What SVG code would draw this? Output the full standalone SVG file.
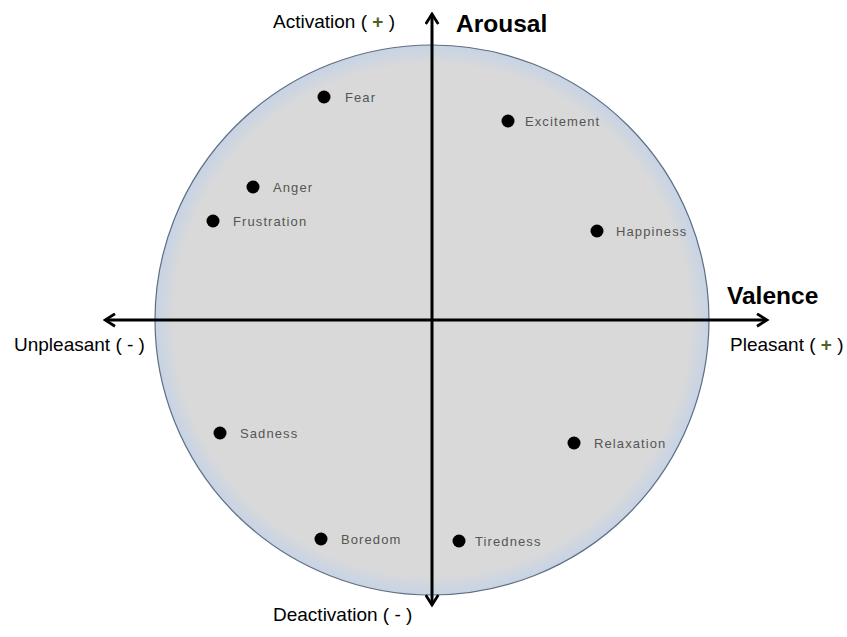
<svg xmlns="http://www.w3.org/2000/svg" width="847" height="637" viewBox="0 0 847 637">
<defs>
<radialGradient id="g" cx="0.5" cy="0.5" r="0.5">
<stop offset="0" stop-color="#d9d9d9"/>
<stop offset="0.93" stop-color="#d9d9d9"/>
<stop offset="1" stop-color="#c6d3e6"/>
</radialGradient>
<marker id="ah" viewBox="0 0 12 12" refX="10" refY="6" markerWidth="5" markerHeight="5" orient="auto" markerUnits="strokeWidth">
<path d="M2,1 L10,6 L2,11" fill="none" stroke="#000" stroke-width="2.2"/>
</marker>
</defs>
<style>
.ax{font-family:"Liberation Sans",Arial,sans-serif;font-size:19px;fill:#000}
.tt{font-family:"Liberation Sans",Arial,sans-serif;font-size:24.5px;font-weight:bold;fill:#000}
.pl{fill:#4f6228;font-weight:bold}
.lb{font-family:"Liberation Sans",Arial,sans-serif;font-size:13px;letter-spacing:1.1px;fill:#555}
.dot{fill:#000}
</style>
<rect width="847" height="637" fill="#fff"/>
<g id="circle">
<ellipse cx="432" cy="320" rx="277" ry="275" fill="url(#g)" stroke="#5f6f80" stroke-width="1.2"/>
</g>
<g id="connectors" stroke="#000" stroke-width="3" fill="none">
<line x1="432" y1="320" x2="432" y2="14" marker-end="url(#ah)"/>
<line x1="432" y1="320" x2="432" y2="605" marker-end="url(#ah)"/>
<line x1="432" y1="320" x2="767" y2="320" marker-end="url(#ah)"/>
<line x1="432" y1="320" x2="105" y2="320" marker-end="url(#ah)"/>
</g>
<g id="axis-labels">
<text class="ax" x="273" y="28">Activation ( <tspan class="pl">+</tspan> )</text>
<text class="tt" x="456" y="32">Arousal</text>
<text class="tt" x="727" y="304">Valence</text>
<text class="ax" x="730" y="351">Pleasant ( <tspan class="pl">+</tspan> )</text>
<text class="ax" x="14" y="351">Unpleasant ( - )</text>
<text class="ax" x="273" y="621">Deactivation ( - )</text>
</g>
<g id="fear"><circle class="dot" cx="324" cy="97" r="6.5"/><text class="lb" x="345" y="102">Fear</text></g>
<g id="excitement"><circle class="dot" cx="508" cy="121" r="6.5"/><text class="lb" x="525" y="126">Excitement</text></g>
<g id="anger"><circle class="dot" cx="253" cy="187" r="6.5"/><text class="lb" x="273" y="192">Anger</text></g>
<g id="frustration"><circle class="dot" cx="213" cy="221" r="6.5"/><text class="lb" x="233" y="226">Frustration</text></g>
<g id="happiness"><circle class="dot" cx="597" cy="231" r="6.5"/><text class="lb" x="616" y="236">Happiness</text></g>
<g id="sadness"><circle class="dot" cx="220" cy="433" r="6.5"/><text class="lb" x="240" y="438">Sadness</text></g>
<g id="relaxation"><circle class="dot" cx="574" cy="443" r="6.5"/><text class="lb" x="594" y="448">Relaxation</text></g>
<g id="boredom"><circle class="dot" cx="321" cy="539" r="6.5"/><text class="lb" x="341" y="544">Boredom</text></g>
<g id="tiredness"><circle class="dot" cx="459" cy="541" r="6.5"/><text class="lb" x="475" y="546">Tiredness</text></g>
</svg>
